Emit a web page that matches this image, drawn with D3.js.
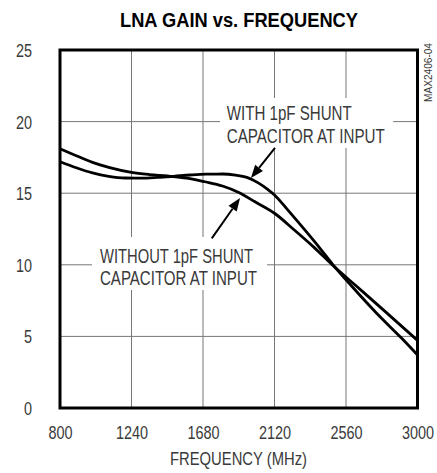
<!DOCTYPE html>
<html>
<head>
<meta charset="utf-8">
<script src="https://cdn.jsdelivr.net/npm/d3@7"></script>
<style>
  html, body { margin: 0; padding: 0; background: #fff; }
  svg { display: block; }
  .lbl { font-family: "Liberation Sans", Arial, sans-serif; fill: #3a3a3a; }
</style>
</head>
<body>
<div id="chart"></div>
<script>
// ---- data ----
const title = "LNA GAIN vs. FREQUENCY";
const xLabel = "FREQUENCY (MHz)";
const xTicks = [800, 1240, 1680, 2120, 2560, 3000];
const yTicks = [0, 5, 10, 15, 20, 25];

const freqWith = [800, 900, 1000, 1100, 1200, 1300, 1400, 1500, 1600, 1700, 1800, 1880, 1950, 2020, 2080, 2120, 2200, 2300, 2400, 2480, 2600, 2750, 2900, 3000];
const gainWith = [17.2, 16.78, 16.42, 16.18, 16.06, 16.05, 16.1, 16.18, 16.27, 16.33, 16.34, 16.26, 16.1, 15.72, 15.25, 14.88, 13.85, 12.52, 11.15, 10.0, 8.45, 6.6, 4.9, 3.7];

const freqWithout = [800, 900, 1000, 1100, 1240, 1350, 1460, 1580, 1690, 1800, 1900, 2000, 2120, 2240, 2360, 2480, 2620, 2800, 3000];
const gainWithout = [18.1, 17.62, 17.15, 16.8, 16.45, 16.3, 16.2, 16.05, 15.8, 15.5, 15.05, 14.4, 13.6, 12.45, 11.25, 9.95, 8.55, 6.75, 4.72];

const noteWith = ["WITH 1pF SHUNT", "CAPACITOR AT INPUT"];
const noteWithout = ["WITHOUT 1pF SHUNT", "CAPACITOR AT INPUT"];
const sideCode = "MAX2406-04";

// ---- layout ----
const W = 437, H = 473;
const L = 60, R = 417.5, T = 50, B = 408;
const SX = 0.78; // horizontal condensing of the label font

const svg = d3.select("#chart").append("svg").attr("width", W).attr("height", H);

const x = d3.scaleLinear().domain([800, 3000]).range([L, R]);
const y = d3.scaleLinear().domain([0, 25]).range([B, T]);

// gridlines
const grid = svg.append("g");
grid.selectAll("line.v").data(xTicks.slice(1, -1)).join("line")
  .attr("x1", d => x(d)).attr("x2", d => x(d)).attr("y1", T).attr("y2", B)
  .attr("stroke", "#777").attr("stroke-width", 1);
grid.selectAll("line.h").data(yTicks.slice(1, -1)).join("line")
  .attr("x1", L).attr("x2", R).attr("y1", d => y(d)).attr("y2", d => y(d))
  .attr("stroke", "#777").attr("stroke-width", 1);

// annotation backgrounds (mask gridlines)
function box(f0, f1, g0, g1) {
  svg.append("rect").attr("x", x(f0)).attr("y", y(g1))
    .attr("width", x(f1) - x(f0)).attr("height", y(g0) - y(g1)).attr("fill", "#fff");
}
box(1785, 2850, 18.16, 21.65);
box(997, 2074, 8.24, 11.94);

// axes (labels only)
const xAxis = svg.append("g").attr("transform", `translate(0,${B})`)
  .call(d3.axisBottom(x).tickValues(xTicks).tickSize(0).tickPadding(0).tickFormat(d3.format("d")));
xAxis.select(".domain").remove();
xAxis.selectAll("text").attr("class", "lbl").attr("font-size", 18.5)
  .attr("fill", "#3a3a3a").attr("y", 31).attr("dy", null)
  .attr("transform", `scale(${SX},1)`);

const yAxis = svg.append("g").attr("transform", `translate(${L},0)`)
  .call(d3.axisLeft(y).tickValues(yTicks).tickSize(0).tickPadding(0).tickFormat(d3.format("d")));
yAxis.select(".domain").remove();
yAxis.selectAll("text").attr("class", "lbl").attr("font-size", 18.5)
  .attr("fill", "#3a3a3a").attr("x", -28 / SX).attr("dy", "0.35em")
  .attr("transform", `scale(${SX},1)`);

// curves
const line = d3.line().x(d => x(d[0])).y(d => y(d[1])).curve(d3.curveMonotoneX);
svg.append("path").datum(freqWith.map((f, i) => [f, gainWith[i]]))
  .attr("d", line).attr("fill", "none").attr("stroke", "#000").attr("stroke-width", 2.8);
svg.append("path").datum(freqWithout.map((f, i) => [f, gainWithout[i]]))
  .attr("d", line).attr("fill", "none").attr("stroke", "#000").attr("stroke-width", 2.8);

// frame
svg.append("rect").attr("x", L).attr("y", T).attr("width", R - L).attr("height", B - T)
  .attr("fill", "none").attr("stroke", "#000").attr("stroke-width", 3);

// annotation texts
function note(lines, widths, f, g0, g1) {
  [g0, g1].forEach((g, i) => {
    svg.append("text").attr("class", "lbl").attr("font-size", 19.5)
      .attr("x", x(f)).attr("y", y(g))
      .attr("textLength", widths[i]).attr("lengthAdjust", "spacingAndGlyphs")
      .text(lines[i]);
  });
}
note(noteWith, [125, 158], 1826, 20.11, 18.48);
note(noteWithout, [153, 157], 1046, 10.15, 8.59);

// arrows
function arrow(f0, g0, f1, g1) {
  const x0 = x(f0), y0 = y(g0), x1 = x(f1), y1 = y(g1);
  const ang = Math.atan2(y1 - y0, x1 - x0);
  const hl = 13, hw = 5;
  const bx = x1 - hl * Math.cos(ang), by = y1 - hl * Math.sin(ang);
  svg.append("line").attr("x1", x0).attr("y1", y0).attr("x2", bx).attr("y2", by)
    .attr("stroke", "#000").attr("stroke-width", 2);
  const px = -Math.sin(ang) * hw, py = Math.cos(ang) * hw;
  svg.append("path")
    .attr("d", `M${x1},${y1}L${bx + px},${by + py}L${bx - px},${by - py}Z`)
    .attr("fill", "#000");
}
arrow(2123, 18.16, 1975, 16.06);
arrow(1734, 11.85, 1908, 14.66);

// title
svg.append("text").attr("x", 120).attr("y", 27)
  .attr("font-family", '"Liberation Sans", Arial, sans-serif')
  .attr("font-weight", "bold").attr("font-size", 19.5).attr("fill", "#000")
  .attr("textLength", 238).attr("lengthAdjust", "spacingAndGlyphs").text(title);

// x axis title
svg.append("text").attr("class", "lbl").attr("x", 170).attr("y", 465)
  .attr("font-size", 18.5).attr("textLength", 137).attr("lengthAdjust", "spacingAndGlyphs")
  .text(xLabel);

// side code
svg.append("text").attr("class", "lbl")
  .attr("transform", "translate(432,102) rotate(-90)")
  .attr("font-size", 11).attr("fill", "#111")
  .attr("textLength", 59).attr("lengthAdjust", "spacingAndGlyphs").text(sideCode);
</script>
</body>
</html>
